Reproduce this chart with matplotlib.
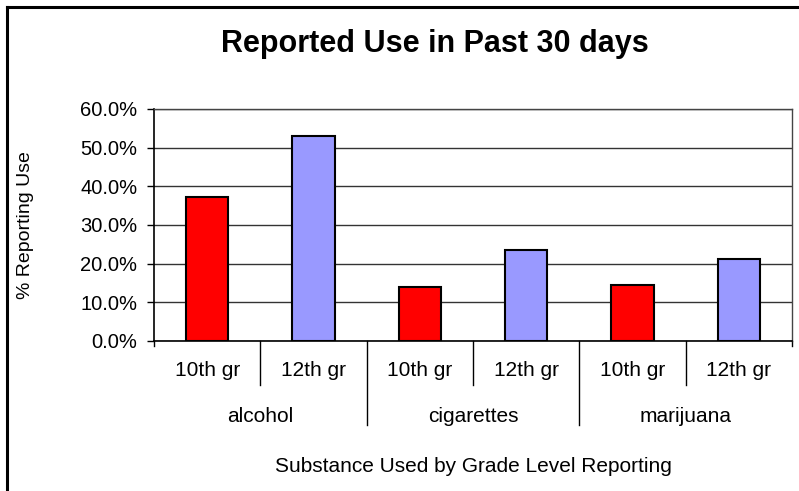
import matplotlib.pyplot as plt

plt.rcParams['font.family'] = ['Liberation Sans', 'DejaVu Sans']

substances = ['alcohol', 'cigarettes', 'marijuana']
grades = ['10th gr', '12th gr']
# percent reporting use, one list per grade
grade10 = [37.3, 14.0, 14.6]
grade12 = [52.9, 23.5, 21.1]
colors = ['#FF0000', '#9999FF']
yticks = [0, 10, 20, 30, 40, 50, 60]

fig = plt.figure(figsize=(7.99, 4.91), dpi=100)
ax = fig.add_axes([154 / 799, 150 / 491, 638 / 799, 232 / 491])

# interleave the two grades per substance
values = []
bar_colors = []
labels = []
for a, b in zip(grade10, grade12):
    values += [a, b]
    bar_colors += colors
    labels += grades
xs = list(range(len(values)))

ax.bar(xs, values, width=0.4, color=bar_colors, edgecolor='black',
       linewidth=1.5, zorder=3)

ax.set_xlim(-0.5, len(values) - 0.5)
ax.set_ylim(0, 60)
ax.set_yticks(yticks)
ax.set_yticklabels(['{:.1f}%'.format(v) for v in yticks], fontsize=14.5)
ax.tick_params(axis='y', direction='out', length=5, width=1, pad=7)
ax.set_xticks([])
ax.grid(axis='y', color='#333333', linewidth=1, zorder=0)

for side in ['top', 'right']:
    ax.spines[side].set_color('#444444')
    ax.spines[side].set_linewidth(1)
for side in ['left', 'bottom']:
    ax.spines[side].set_color('black')
    ax.spines[side].set_linewidth(1.2)

trans = ax.get_xaxis_transform()
px = 1 / 232  # axes fraction per pixel in y

# separators below the axis
for i in range(len(values) + 1):
    x = i - 0.5
    if i == 0 or i == len(values):
        depth = 5
    elif i % 2 == 0:
        depth = 84
    else:
        depth = 44
    ax.plot([x, x], [0, -depth * px], color='black', linewidth=1,
            transform=trans, clip_on=False)

for x, lab in zip(xs, labels):
    ax.text(x, -29 * px, lab, transform=trans, ha='center', va='center',
            fontsize=15)

for i, sub in enumerate(substances):
    ax.text(2 * i + 0.5, -75 * px, sub, transform=trans, ha='center',
            va='center', fontsize=15)

ax.text(0.5, -126 * px, 'Substance Used by Grade Level Reporting',
        transform=ax.transAxes, ha='center', va='center', fontsize=15)

fig.text(26 / 799, 1 - 225 / 491, '% Reporting Use', rotation=90,
         ha='center', va='center', fontsize=14)

fig.text(435 / 799, 1 - 44 / 491, 'Reported Use in Past 30 days',
         ha='center', va='center', fontsize=22, fontweight='bold')

# chart frame (only top and left edges fall inside the image)
fig.add_artist(plt.Line2D([7 / 799, 7 / 799], [0, 1 - 7 / 491],
                          color='black', linewidth=2.2))
fig.add_artist(plt.Line2D([7 / 799, 1], [1 - 7 / 491, 1 - 7 / 491],
                          color='black', linewidth=2.2))

fig.savefig('out.png', dpi=100)
